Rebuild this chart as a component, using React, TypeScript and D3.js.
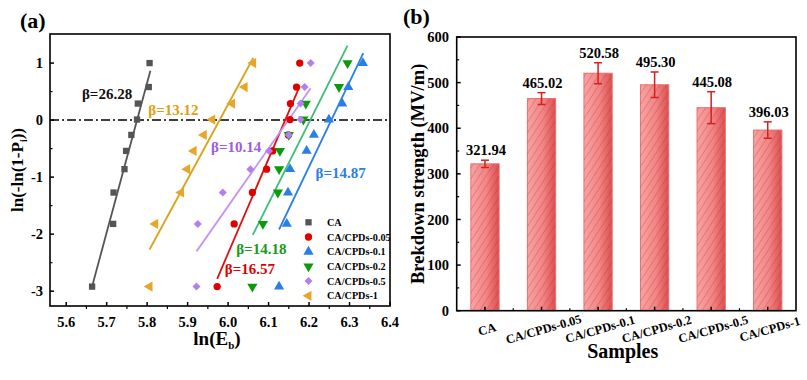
import React from "react";
import * as d3 from "d3";

// ---------- Panel (a): Weibull plot data ----------
const weibullLevels = [-2.92, -1.82, -1.27, -0.86, -0.54, -0.26, 0.01, 0.29, 0.58, 1.0];
const xCA = [5.664, 5.716, 5.717, 5.744, 5.748, 5.761, 5.775, 5.777, 5.804, 5.806];
const xCPD005 = [5.973, 6.015, 6.06, 6.095, 6.11, 6.149, 6.153, 6.154, 6.169, 6.177];
const xCPD01 = [6.126, 6.145, 6.148, 6.153, 6.194, 6.212, 6.249, 6.282, 6.297, 6.333];
const xCPD02 = [6.06, 6.086, 6.123, 6.126, 6.128, 6.15, 6.186, 6.192, 6.274, 6.295];
const xCPD05 = [5.922, 5.925, 5.987, 6.055, 6.101, 6.15, 6.179, 6.179, 6.189, 6.204];
const xCPD1 = [5.806, 5.82, 5.884, 5.899, 5.915, 5.94, 5.961, 6.01, 6.041, 6.062];

const seriesNames = ["CA", "CA/CPDs-0.05", "CA/CPDs-0.1", "CA/CPDs-0.2", "CA/CPDs-0.5", "CA/CPDs-1"];
const seriesX = [xCA, xCPD005, xCPD01, xCPD02, xCPD05, xCPD1];
const betas = [26.28, 16.57, 14.87, 14.18, 10.14, 13.12];
const fitZero = [5.775, 6.141, 6.255, 6.203, 6.149, 5.979];
const fitStart = [5.664, 5.973, 6.126, 6.061, 5.922, 5.806];
const fitEnd = [5.808, 6.177, 6.334, 6.295, 6.204, 6.062];
const betaLabelX = [5.639, 5.992, 6.216, 6.02, 5.958, 5.803];
const betaLabelY = [0.47, -2.6, -0.92, -2.26, -0.47, 0.19];

const markerColors = ["#555555", "#e00000", "#2a7fe6", "#0a9a0a", "#b27ff0", "#e8a52a"];
const lineColors = ["#555555", "#e01010", "#2a80e8", "#3cbf72", "#c295f2", "#d9a21a"];
const labelColors = ["#111111", "#e00000", "#2a7fe6", "#1a9a1a", "#9b5de5", "#e0a010"];
const markerShapes = ["square", "circle", "up", "down", "diamond", "left"];

const xTicksA = [5.6, 5.7, 5.8, 5.9, 6.0, 6.1, 6.2, 6.3, 6.4];
const yTicksA = [1, 0, -1, -2, -3];

// ---------- Panel (b): bar data ----------
const samples = ["CA", "CA/CPDs-0.05", "CA/CPDs-0.1", "CA/CPDs-0.2", "CA/CPDs-0.5", "CA/CPDs-1"];
const strength = [321.94, 465.02, 520.58, 495.3, 445.08, 396.03];
const strengthErr = [8, 13, 23, 28, 35, 18];
const yTicksB = [0, 100, 200, 300, 400, 500, 600];

const FONT = "'Liberation Serif', 'Times New Roman', serif";

function markerPath(shape: string) {
  switch (shape) {
    case "square":
      return { d: d3.symbol(d3.symbolSquare, 40)()!, rot: 0 };
    case "circle":
      return { d: d3.symbol(d3.symbolCircle, 42)()!, rot: 0 };
    case "up":
      return { d: d3.symbol(d3.symbolTriangle, 45)()!, rot: 0 };
    case "down":
      return { d: d3.symbol(d3.symbolTriangle, 45)()!, rot: 180 };
    case "diamond":
      return { d: d3.symbol(d3.symbolSquare, 32)()!, rot: 45 };
    default:
      return { d: d3.symbol(d3.symbolTriangle, 45)()!, rot: -90 };
  }
}

export default function App() {
  // Panel (a) scales
  const ax0 = 50, ax1 = 390, ay0 = 34, ay1 = 306;
  const x = d3.scaleLinear().domain([5.56, 6.4]).range([ax0, ax1]);
  const y = d3.scaleLinear().domain([-3.26, 1.51]).range([ay1, ay0]);
  const xMinorA = d3.range(5.65, 6.4, 0.1);
  const yMinorA = [0.5, -0.5, -1.5, -2.5];

  // Panel (b) scales
  const bx0 = 456.7, bx1 = 796, by0 = 37, by1 = 310.7;
  const xb = d3.scaleBand<string>().domain(samples).range([bx0, bx1]).paddingInner(0.5).paddingOuter(0.25);
  const yb = d3.scaleLinear().domain([0, 600]).range([by1, by0]);
  const yMinorB = d3.range(50, 600, 100);

  const line = d3.line<[number, number]>().x((d) => x(d[0])).y((d) => y(d[1]));

  return (
    <svg width={807} height={380} style={{ position: "absolute", left: 0, top: 0, background: "#fff" }} fontFamily={FONT}>
      <defs>
        <linearGradient id="barGrad" x1="0" x2="1" y1="0" y2="0">
          <stop offset="0" stopColor="#f7a3a3" />
          <stop offset="0.55" stopColor="#f28585" />
          <stop offset="1" stopColor="#dc4f4f" />
        </linearGradient>
        <pattern id="hatch" patternUnits="userSpaceOnUse" width={8} height={8} patternTransform="rotate(-12)">
          <path d="M-2,2 L2,-2 M0,8 L8,0 M6,10 L10,6" stroke="#a81818" strokeOpacity={0.42} strokeWidth={0.75} />
        </pattern>
      </defs>

      {/* ================= Panel (a) ================= */}
      <text x={20} y={28} fontSize={22} fontWeight="bold">(a)</text>

      {/* zero line */}
      <line x1={ax0} x2={ax1} y1={y(0)} y2={y(0)} stroke="#000" strokeWidth={1.5} strokeDasharray="9,3,2,3" />

      {/* fit lines */}
      {seriesNames.map((n, i) => {
        const pts: [number, number][] = [
          [fitStart[i], betas[i] * (fitStart[i] - fitZero[i])],
          [fitEnd[i], betas[i] * (fitEnd[i] - fitZero[i])],
        ];
        return <path key={"fit" + n} d={line(pts)!} stroke={lineColors[i]} strokeWidth={1.8} fill="none" />;
      })}

      {/* markers */}
      {seriesNames.map((n, i) => {
        const m = markerPath(markerShapes[i]);
        return (
          <g key={"pts" + n}>
            {seriesX[i].map((xv, j) => (
              <path
                key={j}
                d={m.d}
                transform={`translate(${x(xv)},${y(weibullLevels[j])}) rotate(${m.rot})`}
                fill={markerColors[i]}
              />
            ))}
          </g>
        );
      })}

      {/* beta labels */}
      {seriesNames.map((n, i) => (
        <text
          key={"beta" + n}
          x={x(betaLabelX[i])}
          y={y(betaLabelY[i])}
          dy="0.35em"
          fontSize={15}
          fontWeight="bold"
          fill={labelColors[i]}
        >
          {"β=" + betas[i].toFixed(2)}
        </text>
      ))}

      {/* legend */}
      {seriesNames.map((n, i) => {
        const m = markerPath(markerShapes[i]);
        const ly = 222.3 + i * 14.7;
        return (
          <g key={"leg" + n}>
            <path d={m.d} transform={`translate(308.5,${ly}) rotate(${m.rot})`} fill={markerColors[i]} />
            <text x={327} y={ly} dy="0.35em" fontSize={10.2} fontWeight="bold">{n}</text>
          </g>
        );
      })}

      {/* frame and ticks */}
      <rect x={ax0} y={ay0} width={ax1 - ax0} height={ay1 - ay0} fill="none" stroke="#000" strokeWidth={1.6} />
      {xTicksA.map((t) => (
        <g key={"xt" + t}>
          <line x1={x(t)} x2={x(t)} y1={ay1} y2={ay1 - 4} stroke="#000" strokeWidth={1.5} />
          <text x={x(t)} y={327} textAnchor="middle" fontSize={14.5} fontWeight="bold">{t.toFixed(1)}</text>
        </g>
      ))}
      {xMinorA.map((t) => (
        <line key={"xm" + t} x1={x(t)} x2={x(t)} y1={ay1} y2={ay1 + 3} stroke="#000" strokeWidth={1.2} />
      ))}
      {yTicksA.map((t) => (
        <g key={"yt" + t}>
          <line x1={ax0} x2={ax0 + 4} y1={y(t)} y2={y(t)} stroke="#000" strokeWidth={1.5} />
          <text x={43} y={y(t)} dy="0.35em" textAnchor="end" fontSize={14.5} fontWeight="bold">{t === 0 ? "0" : String(t)}</text>
        </g>
      ))}
      {yMinorA.map((t) => (
        <line key={"ym" + t} x1={ax0} x2={ax0 + 2.5} y1={y(t)} y2={y(t)} stroke="#000" strokeWidth={1.2} />
      ))}

      {/* axis titles */}
      <text x={217} y={345} textAnchor="middle" fontSize={19} fontWeight="bold">
        ln(E<tspan fontSize={11} dy={4}>b</tspan><tspan dy={-4}>)</tspan>
      </text>
      <text transform={`translate(23,${(ay0 + ay1) / 2}) rotate(-90)`} textAnchor="middle" fontSize={17} fontWeight="bold">
        ln(-ln(1-P<tspan fontSize={10} dy={4}>i</tspan><tspan dy={-4}>))</tspan>
      </text>

      {/* ================= Panel (b) ================= */}
      <text x={403} y={24} fontSize={22} fontWeight="bold">(b)</text>

      {samples.map((s, i) => {
        const bx = xb(s)!;
        const bw = xb.bandwidth();
        const top = yb(strength[i]);
        return (
          <g key={"bar" + s}>
            <rect x={bx} y={top} width={bw} height={by1 - top} fill="url(#barGrad)" stroke="#ee7070" strokeWidth={1} />
            <rect x={bx} y={top} width={bw} height={by1 - top} fill="url(#hatch)" />
          </g>
        );
      })}

      {samples.map((s, i) => {
        const cx = xb(s)! + xb.bandwidth() / 2;
        const hi = yb(strength[i] + strengthErr[i]);
        const lo = yb(strength[i] - strengthErr[i]);
        return (
          <g key={"err" + s}>
            <line x1={cx} x2={cx} y1={hi} y2={lo} stroke="#d81e1e" strokeWidth={1.5} />
            <line x1={cx - 4} x2={cx + 4} y1={hi} y2={hi} stroke="#d81e1e" strokeWidth={1.5} />
            <line x1={cx - 4} x2={cx + 4} y1={lo} y2={lo} stroke="#d81e1e" strokeWidth={1.5} />
            <text x={cx + 1} y={hi - 5} textAnchor="middle" fontSize={14.5} fontWeight="bold">{strength[i].toFixed(2)}</text>
          </g>
        );
      })}

      <rect x={bx0} y={by0} width={bx1 - bx0} height={by1 - by0} fill="none" stroke="#000" strokeWidth={1.6} />
      {yTicksB.map((t) => (
        <g key={"ybt" + t}>
          <line x1={bx0} x2={bx0 + 4} y1={yb(t)} y2={yb(t)} stroke="#000" strokeWidth={1.5} />
          <text x={449} y={yb(t)} dy="0.35em" textAnchor="end" fontSize={14.5} fontWeight="bold">{t}</text>
        </g>
      ))}
      {yMinorB.map((t) => (
        <line key={"ybm" + t} x1={bx0} x2={bx0 + 2.5} y1={yb(t)} y2={yb(t)} stroke="#000" strokeWidth={1.2} />
      ))}
      {samples.map((s, i) => {
        const cx = xb(s)! + xb.bandwidth() / 2;
        const step = xb.step();
        return (
          <g key={"xbt" + s}>
            <line x1={cx} x2={cx} y1={by1} y2={by1 - 4} stroke="#000" strokeWidth={1.5} />
            {i < samples.length - 1 && (
              <line x1={cx + step / 2} x2={cx + step / 2} y1={by1} y2={by1 - 2.5} stroke="#000" strokeWidth={1.2} />
            )}
            <text
              transform={`translate(${cx + 2},${329}) rotate(-16)`}
              textAnchor="middle"
              dy="0.35em"
              fontSize={12.5}
              fontWeight="bold"
            >
              {s}
            </text>
          </g>
        );
      })}

      <text x={622.7} y={358} textAnchor="middle" fontSize={20} fontWeight="bold">Samples</text>
      <text transform={`translate(424,${(by0 + by1) / 2}) rotate(-90)`} textAnchor="middle" fontSize={18.5} fontWeight="bold">
        Brekdown strength (MV/m)
      </text>
    </svg>
  );
}
